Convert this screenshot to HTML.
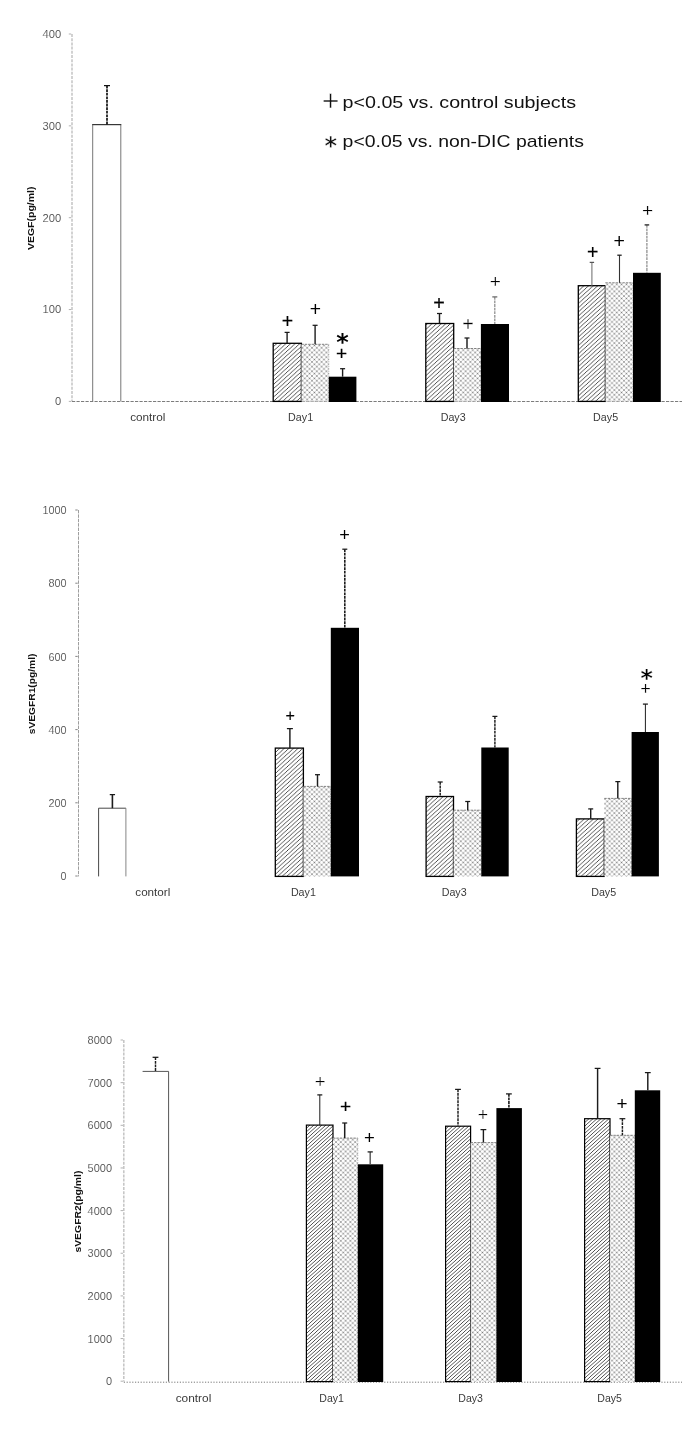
<!DOCTYPE html>
<html lang="en"><head><meta charset="utf-8"><title>Figure</title>
<style>
html,body{margin:0;padding:0;background:#fff;}
body{width:685px;height:1433px;overflow:hidden;font-family:"Liberation Sans", sans-serif;}
svg{display:block}
</style></head><body>
<svg width="685" height="1433" viewBox="0 0 685 1433">
<defs>
<pattern id="hatch" patternUnits="userSpaceOnUse" width="4.6" height="4.2">
<rect width="4.6" height="4.2" fill="#fff"/>
<path d="M-1.15 1.05L1.15 -1.05M0 4.2L4.6 0M3.45 5.25L5.75 3.15" stroke="#111" stroke-width="0.74"/>
</pattern>
<pattern id="hatch3" patternUnits="userSpaceOnUse" width="4" height="3.6">
<rect width="4" height="3.6" fill="#fff"/>
<path d="M-1 0.9L1 -0.9M0 3.6L4 0M3 4.5L5 2.7" stroke="#222" stroke-width="0.8"/>
</pattern>
<pattern id="dots" patternUnits="userSpaceOnUse" width="4.8" height="4.7">
<rect width="4.8" height="4.7" fill="#fff"/>
<path d="M-0.5 -0.49L5.3 5.19M-0.5 5.19L5.3 -0.49" stroke="#cdcdcd" stroke-width="0.9"/>
<circle cx="2.4" cy="2.35" r="0.72" fill="#6e6e6e"/>
<circle cx="0" cy="0" r="0.72" fill="#6e6e6e"/><circle cx="4.8" cy="0" r="0.72" fill="#6e6e6e"/><circle cx="0" cy="4.7" r="0.72" fill="#6e6e6e"/><circle cx="4.8" cy="4.7" r="0.72" fill="#6e6e6e"/>
</pattern>
</defs>
<rect width="685" height="1433" fill="#fff"/>
<line x1="72" y1="34" x2="72" y2="401.4" stroke="#c4c4c4" stroke-width="1.5" stroke-dasharray="3 1.2"/>
<line x1="68.80" y1="34.00" x2="71.20" y2="34.00" stroke="#aaa" stroke-width="0.9"/>
<line x1="68.80" y1="125.85" x2="71.20" y2="125.85" stroke="#aaa" stroke-width="0.9"/>
<line x1="68.80" y1="217.70" x2="71.20" y2="217.70" stroke="#aaa" stroke-width="0.9"/>
<line x1="68.80" y1="309.55" x2="71.20" y2="309.55" stroke="#aaa" stroke-width="0.9"/>
<line x1="68.80" y1="401.40" x2="71.20" y2="401.40" stroke="#aaa" stroke-width="0.9"/>
<line x1="72" y1="401.4" x2="682" y2="401.4" stroke="#7c7c7c" stroke-width="1.05" stroke-dasharray="3.2 1.3"/>
<text x="61.30" y="37.86" font-size="10.5" text-anchor="end" font-family='"Liberation Sans", sans-serif' fill="#444" stroke="#fff" stroke-width="0.12" paint-order="fill stroke" textLength="18.7" lengthAdjust="spacingAndGlyphs">400</text>
<text x="61.30" y="129.71" font-size="10.5" text-anchor="end" font-family='"Liberation Sans", sans-serif' fill="#444" stroke="#fff" stroke-width="0.12" paint-order="fill stroke" textLength="18.7" lengthAdjust="spacingAndGlyphs">300</text>
<text x="61.30" y="221.56" font-size="10.5" text-anchor="end" font-family='"Liberation Sans", sans-serif' fill="#444" stroke="#fff" stroke-width="0.12" paint-order="fill stroke" textLength="18.7" lengthAdjust="spacingAndGlyphs">200</text>
<text x="61.30" y="313.41" font-size="10.5" text-anchor="end" font-family='"Liberation Sans", sans-serif' fill="#444" stroke="#fff" stroke-width="0.12" paint-order="fill stroke" textLength="18.7" lengthAdjust="spacingAndGlyphs">100</text>
<text x="61.30" y="405.26" font-size="10.5" text-anchor="end" font-family='"Liberation Sans", sans-serif' fill="#444" stroke="#fff" stroke-width="0.12" paint-order="fill stroke" textLength="6.2" lengthAdjust="spacingAndGlyphs">0</text>
<text transform="translate(34.49 218.30) rotate(-90)" font-size="9.3" font-weight="bold" text-anchor="middle" font-family='"Liberation Sans", sans-serif' fill="#111" textLength="63.5" lengthAdjust="spacingAndGlyphs">VEGF(pg/ml)</text>
<path d="M92.70 401.40V124.60H120.80V401.40" fill="none" stroke="#777" stroke-width="1"/>
<path d="M92.20 124.60H121.30" fill="none" stroke="#333" stroke-width="1.1"/>
<line x1="107.00" y1="85.60" x2="107.00" y2="124.60" stroke="#111" stroke-width="1.7" stroke-dasharray="2.8 0.8"/>
<line x1="104.00" y1="85.60" x2="110.00" y2="85.60" stroke="#111" stroke-width="1.25"/>
<rect x="273.20" y="343.30" width="28.20" height="58.10" fill="url(#hatch)" stroke="#000" stroke-width="1.3"/>
<rect x="301.40" y="344.30" width="27.40" height="57.10" fill="url(#dots)"/>
<path d="M301.40 344.30H328.80" fill="none" stroke="#666" stroke-width="0.8" stroke-dasharray="2.4 1"/>
<path d="M328.80 344.30V401.40" fill="none" stroke="#999" stroke-width="0.7" stroke-dasharray="1.2 1.2"/>
<rect x="328.80" y="376.70" width="27.60" height="25.30" fill="#000"/>
<line x1="287.10" y1="332.40" x2="287.10" y2="343.30" stroke="#1c1c1c" stroke-width="1.4"/>
<line x1="284.60" y1="332.40" x2="289.60" y2="332.40" stroke="#1a1a1a" stroke-width="1.25"/>
<line x1="315.10" y1="325.30" x2="315.10" y2="344.30" stroke="#1c1c1c" stroke-width="1.4"/>
<line x1="312.60" y1="325.30" x2="317.60" y2="325.30" stroke="#1a1a1a" stroke-width="1.25"/>
<line x1="342.60" y1="368.70" x2="342.60" y2="376.70" stroke="#1c1c1c" stroke-width="1.4"/>
<line x1="340.10" y1="368.70" x2="345.10" y2="368.70" stroke="#1a1a1a" stroke-width="1.25"/>
<text x="281.80" y="327.60" font-size="19.55" font-family='"Liberation Sans", sans-serif' fill="#000" stroke="#000" stroke-width="0.18">+</text>
<text x="309.66" y="315.83" font-size="19.34" font-family='"Liberation Sans", sans-serif' fill="#000">+</text>
<text x="336.02" y="360.26" font-size="19.14" font-family='"Liberation Sans", sans-serif' fill="#000" stroke="#000" stroke-width="0.18">+</text>
<text x="336.27" y="350.36" font-size="23.84" font-weight="bold" font-family='"DejaVu Sans", "Liberation Sans", sans-serif' fill="#000">*</text>
<rect x="425.80" y="323.50" width="27.90" height="77.90" fill="url(#hatch)" stroke="#000" stroke-width="1.3"/>
<rect x="453.70" y="348.50" width="27.20" height="52.90" fill="url(#dots)"/>
<path d="M453.70 348.50H480.90" fill="none" stroke="#666" stroke-width="0.8" stroke-dasharray="2.4 1"/>
<path d="M480.90 348.50V401.40" fill="none" stroke="#999" stroke-width="0.7" stroke-dasharray="1.2 1.2"/>
<rect x="480.90" y="324.00" width="28.10" height="78.00" fill="#000"/>
<line x1="439.50" y1="313.50" x2="439.50" y2="323.50" stroke="#1c1c1c" stroke-width="1.45"/>
<line x1="437.00" y1="313.50" x2="442.00" y2="313.50" stroke="#1a1a1a" stroke-width="1.25"/>
<line x1="467.00" y1="338.00" x2="467.00" y2="348.50" stroke="#1c1c1c" stroke-width="1.45"/>
<line x1="464.50" y1="338.00" x2="469.50" y2="338.00" stroke="#1a1a1a" stroke-width="1.25"/>
<line x1="494.80" y1="296.90" x2="494.80" y2="324.00" stroke="#888" stroke-width="1.2" stroke-dasharray="2.8 0.8"/>
<line x1="492.30" y1="296.90" x2="497.30" y2="296.90" stroke="#666" stroke-width="1.25"/>
<text x="433.34" y="309.57" font-size="19.75" font-family='"Liberation Sans", sans-serif' fill="#000" stroke="#000" stroke-width="0.18">+</text>
<text x="462.24" y="331.37" font-size="19.75" font-family='"Liberation Sans", sans-serif' fill="#000" stroke="#fff" stroke-width="0.28" paint-order="fill stroke">+</text>
<text x="489.72" y="288.06" font-size="19.14" font-family='"Liberation Sans", sans-serif' fill="#000" stroke="#fff" stroke-width="0.28" paint-order="fill stroke">+</text>
<rect x="578.30" y="285.70" width="27.10" height="115.70" fill="url(#hatch)" stroke="#000" stroke-width="1.3"/>
<rect x="605.40" y="282.80" width="27.60" height="118.60" fill="url(#dots)"/>
<path d="M605.40 282.80H633.00" fill="none" stroke="#666" stroke-width="0.8" stroke-dasharray="2.4 1"/>
<path d="M633.00 282.80V401.40" fill="none" stroke="#999" stroke-width="0.7" stroke-dasharray="1.2 1.2"/>
<rect x="633.00" y="272.80" width="27.80" height="129.20" fill="#000"/>
<line x1="591.90" y1="262.40" x2="591.90" y2="285.70" stroke="#777" stroke-width="1.1"/>
<line x1="589.70" y1="262.40" x2="594.10" y2="262.40" stroke="#555" stroke-width="1.25"/>
<line x1="619.50" y1="255.20" x2="619.50" y2="282.80" stroke="#333" stroke-width="1.1"/>
<line x1="617.30" y1="255.20" x2="621.70" y2="255.20" stroke="#1a1a1a" stroke-width="1.25"/>
<line x1="646.90" y1="224.90" x2="646.90" y2="272.80" stroke="#888" stroke-width="1.2" stroke-dasharray="2.8 0.8"/>
<line x1="644.60" y1="224.90" x2="649.20" y2="224.90" stroke="#1a1a1a" stroke-width="1.25"/>
<text x="586.90" y="258.90" font-size="19.55" font-family='"Liberation Sans", sans-serif' fill="#000" stroke="#000" stroke-width="0.18">+</text>
<text x="613.60" y="247.50" font-size="19.55" font-family='"Liberation Sans", sans-serif' fill="#000">+</text>
<text x="641.92" y="216.76" font-size="19.14" font-family='"Liberation Sans", sans-serif' fill="#000" stroke="#fff" stroke-width="0.28" paint-order="fill stroke">+</text>
<text x="147.80" y="420.50" font-size="10.3" text-anchor="middle" font-family='"Liberation Sans", sans-serif' fill="#3a3a3a" textLength="35.3" lengthAdjust="spacingAndGlyphs">control</text>
<text x="300.60" y="420.50" font-size="10.3" text-anchor="middle" font-family='"Liberation Sans", sans-serif' fill="#3a3a3a" textLength="25.0" lengthAdjust="spacingAndGlyphs">Day1</text>
<text x="453.20" y="420.50" font-size="10.3" text-anchor="middle" font-family='"Liberation Sans", sans-serif' fill="#3a3a3a" textLength="25.0" lengthAdjust="spacingAndGlyphs">Day3</text>
<text x="605.60" y="420.50" font-size="10.3" text-anchor="middle" font-family='"Liberation Sans", sans-serif' fill="#3a3a3a" textLength="25.0" lengthAdjust="spacingAndGlyphs">Day5</text>
<text font-size="17" font-family='"Liberation Sans", sans-serif' fill="#111"><tspan x="321.68" y="110.56" font-size="30.25" stroke="#fff" stroke-width="0.55" paint-order="fill stroke">+</tspan><tspan x="342.6" y="107.8" textLength="233.4" lengthAdjust="spacingAndGlyphs">p&lt;0.05 vs. control subjects</tspan></text>
<text font-size="17" font-family='"Liberation Sans", sans-serif' fill="#111"><tspan x="324.51" y="154.17" font-size="24.05" font-family='"DejaVu Sans", "Liberation Sans", sans-serif' font-weight="bold" stroke="#fff" stroke-width="0.4" paint-order="fill stroke">*</tspan><tspan x="342.6" y="147.2" textLength="241.4" lengthAdjust="spacingAndGlyphs">p&lt;0.05 vs. non-DIC patients</tspan></text>
<line x1="78.5" y1="510" x2="78.5" y2="876.4" stroke="#8c8c8c" stroke-width="0.85" stroke-dasharray="3.4 1"/>
<line x1="75.30" y1="510.00" x2="77.70" y2="510.00" stroke="#777" stroke-width="0.9"/>
<line x1="75.30" y1="583.20" x2="77.70" y2="583.20" stroke="#777" stroke-width="0.9"/>
<line x1="75.30" y1="656.40" x2="77.70" y2="656.40" stroke="#777" stroke-width="0.9"/>
<line x1="75.30" y1="729.60" x2="77.70" y2="729.60" stroke="#777" stroke-width="0.9"/>
<line x1="75.30" y1="802.80" x2="77.70" y2="802.80" stroke="#777" stroke-width="0.9"/>
<line x1="75.30" y1="876.00" x2="77.70" y2="876.00" stroke="#777" stroke-width="0.9"/>
<text x="66.60" y="514.16" font-size="10.5" text-anchor="end" font-family='"Liberation Sans", sans-serif' fill="#444" stroke="#fff" stroke-width="0.12" paint-order="fill stroke" textLength="24.2" lengthAdjust="spacingAndGlyphs">1000</text>
<text x="66.60" y="587.36" font-size="10.5" text-anchor="end" font-family='"Liberation Sans", sans-serif' fill="#444" stroke="#fff" stroke-width="0.12" paint-order="fill stroke" textLength="18.1" lengthAdjust="spacingAndGlyphs">800</text>
<text x="66.60" y="660.56" font-size="10.5" text-anchor="end" font-family='"Liberation Sans", sans-serif' fill="#444" stroke="#fff" stroke-width="0.12" paint-order="fill stroke" textLength="18.1" lengthAdjust="spacingAndGlyphs">600</text>
<text x="66.60" y="733.76" font-size="10.5" text-anchor="end" font-family='"Liberation Sans", sans-serif' fill="#444" stroke="#fff" stroke-width="0.12" paint-order="fill stroke" textLength="18.1" lengthAdjust="spacingAndGlyphs">400</text>
<text x="66.60" y="806.96" font-size="10.5" text-anchor="end" font-family='"Liberation Sans", sans-serif' fill="#444" stroke="#fff" stroke-width="0.12" paint-order="fill stroke" textLength="18.1" lengthAdjust="spacingAndGlyphs">200</text>
<text x="66.60" y="880.16" font-size="10.5" text-anchor="end" font-family='"Liberation Sans", sans-serif' fill="#444" stroke="#fff" stroke-width="0.12" paint-order="fill stroke" textLength="6.0" lengthAdjust="spacingAndGlyphs">0</text>
<text transform="translate(34.79 693.90) rotate(-90)" font-size="9.3" font-weight="bold" text-anchor="middle" font-family='"Liberation Sans", sans-serif' fill="#111" textLength="80.6" lengthAdjust="spacingAndGlyphs">sVEGFR1(pg/ml)</text>
<path d="M98.60 876.40V808.20H125.90" fill="none" stroke="#333" stroke-width="0.9"/>
<path d="M125.90 808.20V876.40" fill="none" stroke="#777" stroke-width="0.9"/>
<line x1="112.40" y1="794.60" x2="112.40" y2="808.20" stroke="#1c1c1c" stroke-width="1.6"/>
<line x1="109.75" y1="794.60" x2="115.05" y2="794.60" stroke="#1a1a1a" stroke-width="1.25"/>
<rect x="275.30" y="748.10" width="28.10" height="128.30" fill="url(#hatch)" stroke="#000" stroke-width="1.3"/>
<rect x="303.40" y="786.40" width="27.30" height="90.00" fill="url(#dots)"/>
<path d="M303.40 786.40H330.70" fill="none" stroke="#666" stroke-width="0.8" stroke-dasharray="2.4 1"/>
<path d="M330.70 786.40V876.40" fill="none" stroke="#999" stroke-width="0.7" stroke-dasharray="1.2 1.2"/>
<rect x="330.80" y="627.80" width="28.20" height="248.60" fill="#000"/>
<line x1="289.90" y1="728.60" x2="289.90" y2="748.10" stroke="#1c1c1c" stroke-width="1.45"/>
<line x1="286.90" y1="728.60" x2="292.90" y2="728.60" stroke="#1a1a1a" stroke-width="1.25"/>
<line x1="317.50" y1="774.70" x2="317.50" y2="786.40" stroke="#1c1c1c" stroke-width="1.45"/>
<line x1="315.00" y1="774.70" x2="320.00" y2="774.70" stroke="#1a1a1a" stroke-width="1.25"/>
<line x1="344.80" y1="549.20" x2="344.80" y2="627.80" stroke="#1c1c1c" stroke-width="1.6" stroke-dasharray="2.8 0.8"/>
<line x1="342.30" y1="549.20" x2="347.30" y2="549.20" stroke="#1a1a1a" stroke-width="1.25"/>
<text x="285.42" y="721.14" font-size="16.05" font-family='"Liberation Sans", sans-serif' fill="#000" stroke="#000" stroke-width="0.18">+</text>
<text x="339.22" y="540.72" font-size="18.11" font-family='"Liberation Sans", sans-serif' fill="#000">+</text>
<rect x="426.10" y="796.50" width="27.40" height="79.90" fill="url(#hatch)" stroke="#000" stroke-width="1.3"/>
<rect x="453.50" y="810.20" width="27.80" height="66.20" fill="url(#dots)"/>
<path d="M453.50 810.20H481.30" fill="none" stroke="#666" stroke-width="0.8" stroke-dasharray="2.4 1"/>
<path d="M481.30 810.20V876.40" fill="none" stroke="#999" stroke-width="0.7" stroke-dasharray="1.2 1.2"/>
<rect x="481.30" y="747.50" width="27.40" height="128.90" fill="#000"/>
<line x1="440.20" y1="782.00" x2="440.20" y2="796.50" stroke="#1c1c1c" stroke-width="1.45" stroke-dasharray="2.8 0.8"/>
<line x1="437.70" y1="782.00" x2="442.70" y2="782.00" stroke="#1a1a1a" stroke-width="1.25"/>
<line x1="467.70" y1="801.50" x2="467.70" y2="810.20" stroke="#1c1c1c" stroke-width="1.45"/>
<line x1="465.20" y1="801.50" x2="470.20" y2="801.50" stroke="#1a1a1a" stroke-width="1.25"/>
<line x1="494.90" y1="716.40" x2="494.90" y2="747.50" stroke="#1c1c1c" stroke-width="1.45" stroke-dasharray="2.8 0.8"/>
<line x1="492.40" y1="716.40" x2="497.40" y2="716.40" stroke="#1a1a1a" stroke-width="1.25"/>
<rect x="576.40" y="818.90" width="27.90" height="57.50" fill="url(#hatch)" stroke="#000" stroke-width="1.3"/>
<rect x="604.30" y="798.40" width="27.30" height="78.00" fill="url(#dots)"/>
<path d="M604.30 798.40H631.60" fill="none" stroke="#666" stroke-width="0.8" stroke-dasharray="2.4 1"/>
<path d="M631.60 798.40V876.40" fill="none" stroke="#999" stroke-width="0.7" stroke-dasharray="1.2 1.2"/>
<rect x="631.60" y="732.00" width="27.30" height="144.40" fill="#000"/>
<line x1="590.70" y1="808.90" x2="590.70" y2="818.90" stroke="#1c1c1c" stroke-width="1.45"/>
<line x1="588.20" y1="808.90" x2="593.20" y2="808.90" stroke="#1a1a1a" stroke-width="1.25"/>
<line x1="617.80" y1="781.60" x2="617.80" y2="798.40" stroke="#1c1c1c" stroke-width="1.45"/>
<line x1="615.30" y1="781.60" x2="620.30" y2="781.60" stroke="#1a1a1a" stroke-width="1.25"/>
<line x1="645.40" y1="704.10" x2="645.40" y2="732.00" stroke="#1c1c1c" stroke-width="1.0"/>
<line x1="642.90" y1="704.10" x2="647.90" y2="704.10" stroke="#1a1a1a" stroke-width="1.25"/>
<text x="640.32" y="695.12" font-size="18.11" font-family='"Liberation Sans", sans-serif' fill="#000" stroke="#fff" stroke-width="0.28" paint-order="fill stroke">+</text>
<text x="640.52" y="686.05" font-size="23.63" font-weight="bold" font-family='"DejaVu Sans", "Liberation Sans", sans-serif' fill="#000" stroke="#fff" stroke-width="0.2" paint-order="fill stroke">*</text>
<text x="152.80" y="896.00" font-size="10.3" text-anchor="middle" font-family='"Liberation Sans", sans-serif' fill="#3a3a3a" textLength="35.0" lengthAdjust="spacingAndGlyphs">contorl</text>
<text x="303.40" y="896.00" font-size="10.3" text-anchor="middle" font-family='"Liberation Sans", sans-serif' fill="#3a3a3a" textLength="25.0" lengthAdjust="spacingAndGlyphs">Day1</text>
<text x="454.20" y="896.00" font-size="10.3" text-anchor="middle" font-family='"Liberation Sans", sans-serif' fill="#3a3a3a" textLength="25.0" lengthAdjust="spacingAndGlyphs">Day3</text>
<text x="603.70" y="896.00" font-size="10.3" text-anchor="middle" font-family='"Liberation Sans", sans-serif' fill="#3a3a3a" textLength="25.0" lengthAdjust="spacingAndGlyphs">Day5</text>
<line x1="123.8" y1="1040" x2="123.8" y2="1381.6" stroke="#c4c4c4" stroke-width="1.5" stroke-dasharray="3 1.2"/>
<line x1="120.60" y1="1040.00" x2="123.00" y2="1040.00" stroke="#aaa" stroke-width="0.9"/>
<line x1="120.60" y1="1082.65" x2="123.00" y2="1082.65" stroke="#aaa" stroke-width="0.9"/>
<line x1="120.60" y1="1125.30" x2="123.00" y2="1125.30" stroke="#aaa" stroke-width="0.9"/>
<line x1="120.60" y1="1167.95" x2="123.00" y2="1167.95" stroke="#aaa" stroke-width="0.9"/>
<line x1="120.60" y1="1210.60" x2="123.00" y2="1210.60" stroke="#aaa" stroke-width="0.9"/>
<line x1="120.60" y1="1253.25" x2="123.00" y2="1253.25" stroke="#aaa" stroke-width="0.9"/>
<line x1="120.60" y1="1295.90" x2="123.00" y2="1295.90" stroke="#aaa" stroke-width="0.9"/>
<line x1="120.60" y1="1338.55" x2="123.00" y2="1338.55" stroke="#aaa" stroke-width="0.9"/>
<line x1="120.60" y1="1381.20" x2="123.00" y2="1381.20" stroke="#aaa" stroke-width="0.9"/>
<line x1="123.8" y1="1382.1999999999998" x2="682" y2="1382.1999999999998" stroke="#777" stroke-width="1" stroke-dasharray="1.2 1.6"/>
<text x="112.00" y="1044.06" font-size="10.5" text-anchor="end" font-family='"Liberation Sans", sans-serif' fill="#444" stroke="#fff" stroke-width="0.12" paint-order="fill stroke" textLength="24.4" lengthAdjust="spacingAndGlyphs">8000</text>
<text x="112.00" y="1086.71" font-size="10.5" text-anchor="end" font-family='"Liberation Sans", sans-serif' fill="#444" stroke="#fff" stroke-width="0.12" paint-order="fill stroke" textLength="24.4" lengthAdjust="spacingAndGlyphs">7000</text>
<text x="112.00" y="1129.36" font-size="10.5" text-anchor="end" font-family='"Liberation Sans", sans-serif' fill="#444" stroke="#fff" stroke-width="0.12" paint-order="fill stroke" textLength="24.4" lengthAdjust="spacingAndGlyphs">6000</text>
<text x="112.00" y="1172.01" font-size="10.5" text-anchor="end" font-family='"Liberation Sans", sans-serif' fill="#444" stroke="#fff" stroke-width="0.12" paint-order="fill stroke" textLength="24.4" lengthAdjust="spacingAndGlyphs">5000</text>
<text x="112.00" y="1214.66" font-size="10.5" text-anchor="end" font-family='"Liberation Sans", sans-serif' fill="#444" stroke="#fff" stroke-width="0.12" paint-order="fill stroke" textLength="24.4" lengthAdjust="spacingAndGlyphs">4000</text>
<text x="112.00" y="1257.31" font-size="10.5" text-anchor="end" font-family='"Liberation Sans", sans-serif' fill="#444" stroke="#fff" stroke-width="0.12" paint-order="fill stroke" textLength="24.4" lengthAdjust="spacingAndGlyphs">3000</text>
<text x="112.00" y="1299.96" font-size="10.5" text-anchor="end" font-family='"Liberation Sans", sans-serif' fill="#444" stroke="#fff" stroke-width="0.12" paint-order="fill stroke" textLength="24.4" lengthAdjust="spacingAndGlyphs">2000</text>
<text x="112.00" y="1342.61" font-size="10.5" text-anchor="end" font-family='"Liberation Sans", sans-serif' fill="#444" stroke="#fff" stroke-width="0.12" paint-order="fill stroke" textLength="24.4" lengthAdjust="spacingAndGlyphs">1000</text>
<text x="112.00" y="1385.26" font-size="10.5" text-anchor="end" font-family='"Liberation Sans", sans-serif' fill="#444" stroke="#fff" stroke-width="0.12" paint-order="fill stroke" textLength="6.1" lengthAdjust="spacingAndGlyphs">0</text>
<text transform="translate(81.29 1211.60) rotate(-90)" font-size="9.3" font-weight="bold" text-anchor="middle" font-family='"Liberation Sans", sans-serif' fill="#111" textLength="82.0" lengthAdjust="spacingAndGlyphs">sVEGFR2(pg/ml)</text>
<path d="M142.60 1071.40H168.60V1381.60" fill="none" stroke="#555" stroke-width="1"/>
<line x1="155.50" y1="1057.30" x2="155.50" y2="1071.40" stroke="#1c1c1c" stroke-width="1.45" stroke-dasharray="2.8 0.8"/>
<line x1="152.60" y1="1057.30" x2="158.40" y2="1057.30" stroke="#1a1a1a" stroke-width="1.25"/>
<rect x="306.40" y="1125.10" width="26.60" height="256.50" fill="url(#hatch3)" stroke="#000" stroke-width="1.2"/>
<rect x="333.00" y="1138.10" width="24.80" height="243.50" fill="url(#dots)"/>
<path d="M333.00 1138.10H357.80" fill="none" stroke="#666" stroke-width="0.8" stroke-dasharray="2.4 1"/>
<path d="M357.80 1138.10V1381.60" fill="none" stroke="#999" stroke-width="0.7" stroke-dasharray="1.2 1.2"/>
<rect x="357.80" y="1164.30" width="25.40" height="217.70" fill="#000"/>
<line x1="319.80" y1="1094.90" x2="319.80" y2="1125.10" stroke="#1c1c1c" stroke-width="1.0"/>
<line x1="317.30" y1="1094.90" x2="322.30" y2="1094.90" stroke="#1a1a1a" stroke-width="1.25"/>
<line x1="344.70" y1="1123.00" x2="344.70" y2="1138.10" stroke="#1c1c1c" stroke-width="1.5"/>
<line x1="342.20" y1="1123.00" x2="347.20" y2="1123.00" stroke="#1a1a1a" stroke-width="1.25"/>
<line x1="370.20" y1="1151.90" x2="370.20" y2="1164.30" stroke="#555" stroke-width="1.4"/>
<line x1="367.60" y1="1151.90" x2="372.80" y2="1151.90" stroke="#1a1a1a" stroke-width="1.25"/>
<text x="314.80" y="1087.56" font-size="18.52" font-family='"Liberation Sans", sans-serif' fill="#000" stroke="#fff" stroke-width="0.28" paint-order="fill stroke">+</text>
<text x="340.02" y="1112.56" font-size="19.14" font-family='"Liberation Sans", sans-serif' fill="#000" stroke="#000" stroke-width="0.18">+</text>
<text x="364.00" y="1143.76" font-size="18.52" font-family='"Liberation Sans", sans-serif' fill="#000">+</text>
<rect x="445.60" y="1126.20" width="25.00" height="255.40" fill="url(#hatch3)" stroke="#000" stroke-width="1.2"/>
<rect x="470.60" y="1142.60" width="25.80" height="239.00" fill="url(#dots)"/>
<path d="M470.60 1142.60H496.40" fill="none" stroke="#666" stroke-width="0.8" stroke-dasharray="2.4 1"/>
<path d="M496.40 1142.60V1381.60" fill="none" stroke="#999" stroke-width="0.7" stroke-dasharray="1.2 1.2"/>
<rect x="496.40" y="1108.10" width="25.50" height="273.90" fill="#000"/>
<line x1="458.00" y1="1089.40" x2="458.00" y2="1126.20" stroke="#1c1c1c" stroke-width="1.45" stroke-dasharray="2.8 0.8"/>
<line x1="455.10" y1="1089.40" x2="460.90" y2="1089.40" stroke="#1a1a1a" stroke-width="1.25"/>
<line x1="483.40" y1="1129.60" x2="483.40" y2="1142.60" stroke="#1c1c1c" stroke-width="1.4"/>
<line x1="480.50" y1="1129.60" x2="486.30" y2="1129.60" stroke="#1a1a1a" stroke-width="1.25"/>
<line x1="508.90" y1="1093.90" x2="508.90" y2="1108.10" stroke="#1c1c1c" stroke-width="1.6" stroke-dasharray="2.8 0.8"/>
<line x1="506.00" y1="1093.90" x2="511.80" y2="1093.90" stroke="#1a1a1a" stroke-width="1.25"/>
<text x="477.64" y="1121.08" font-size="17.70" font-family='"Liberation Sans", sans-serif' fill="#000" stroke="#fff" stroke-width="0.28" paint-order="fill stroke">+</text>
<rect x="584.60" y="1118.70" width="25.40" height="262.90" fill="url(#hatch3)" stroke="#000" stroke-width="1.2"/>
<rect x="610.00" y="1135.30" width="24.80" height="246.30" fill="url(#dots)"/>
<path d="M610.00 1135.30H634.80" fill="none" stroke="#666" stroke-width="0.8" stroke-dasharray="2.4 1"/>
<path d="M634.80 1135.30V1381.60" fill="none" stroke="#999" stroke-width="0.7" stroke-dasharray="1.2 1.2"/>
<rect x="634.80" y="1090.30" width="25.40" height="291.70" fill="#000"/>
<line x1="597.60" y1="1068.40" x2="597.60" y2="1118.70" stroke="#1c1c1c" stroke-width="1.45"/>
<line x1="594.70" y1="1068.40" x2="600.50" y2="1068.40" stroke="#1a1a1a" stroke-width="1.25"/>
<line x1="622.40" y1="1118.70" x2="622.40" y2="1135.30" stroke="#1c1c1c" stroke-width="1.45" stroke-dasharray="2.8 0.8"/>
<line x1="619.50" y1="1118.70" x2="625.30" y2="1118.70" stroke="#1a1a1a" stroke-width="1.25"/>
<line x1="647.80" y1="1072.60" x2="647.80" y2="1090.30" stroke="#1c1c1c" stroke-width="1.45"/>
<line x1="644.90" y1="1072.60" x2="650.70" y2="1072.60" stroke="#1a1a1a" stroke-width="1.25"/>
<text x="616.48" y="1110.09" font-size="18.93" font-family='"Liberation Sans", sans-serif' fill="#000">+</text>
<text x="193.50" y="1402.00" font-size="10.3" text-anchor="middle" font-family='"Liberation Sans", sans-serif' fill="#3a3a3a" textLength="35.6" lengthAdjust="spacingAndGlyphs">control</text>
<text x="331.60" y="1402.00" font-size="10.3" text-anchor="middle" font-family='"Liberation Sans", sans-serif' fill="#3a3a3a" textLength="24.6" lengthAdjust="spacingAndGlyphs">Day1</text>
<text x="470.60" y="1402.00" font-size="10.3" text-anchor="middle" font-family='"Liberation Sans", sans-serif' fill="#3a3a3a" textLength="24.6" lengthAdjust="spacingAndGlyphs">Day3</text>
<text x="609.60" y="1402.00" font-size="10.3" text-anchor="middle" font-family='"Liberation Sans", sans-serif' fill="#3a3a3a" textLength="24.6" lengthAdjust="spacingAndGlyphs">Day5</text>
</svg>
</body></html>
